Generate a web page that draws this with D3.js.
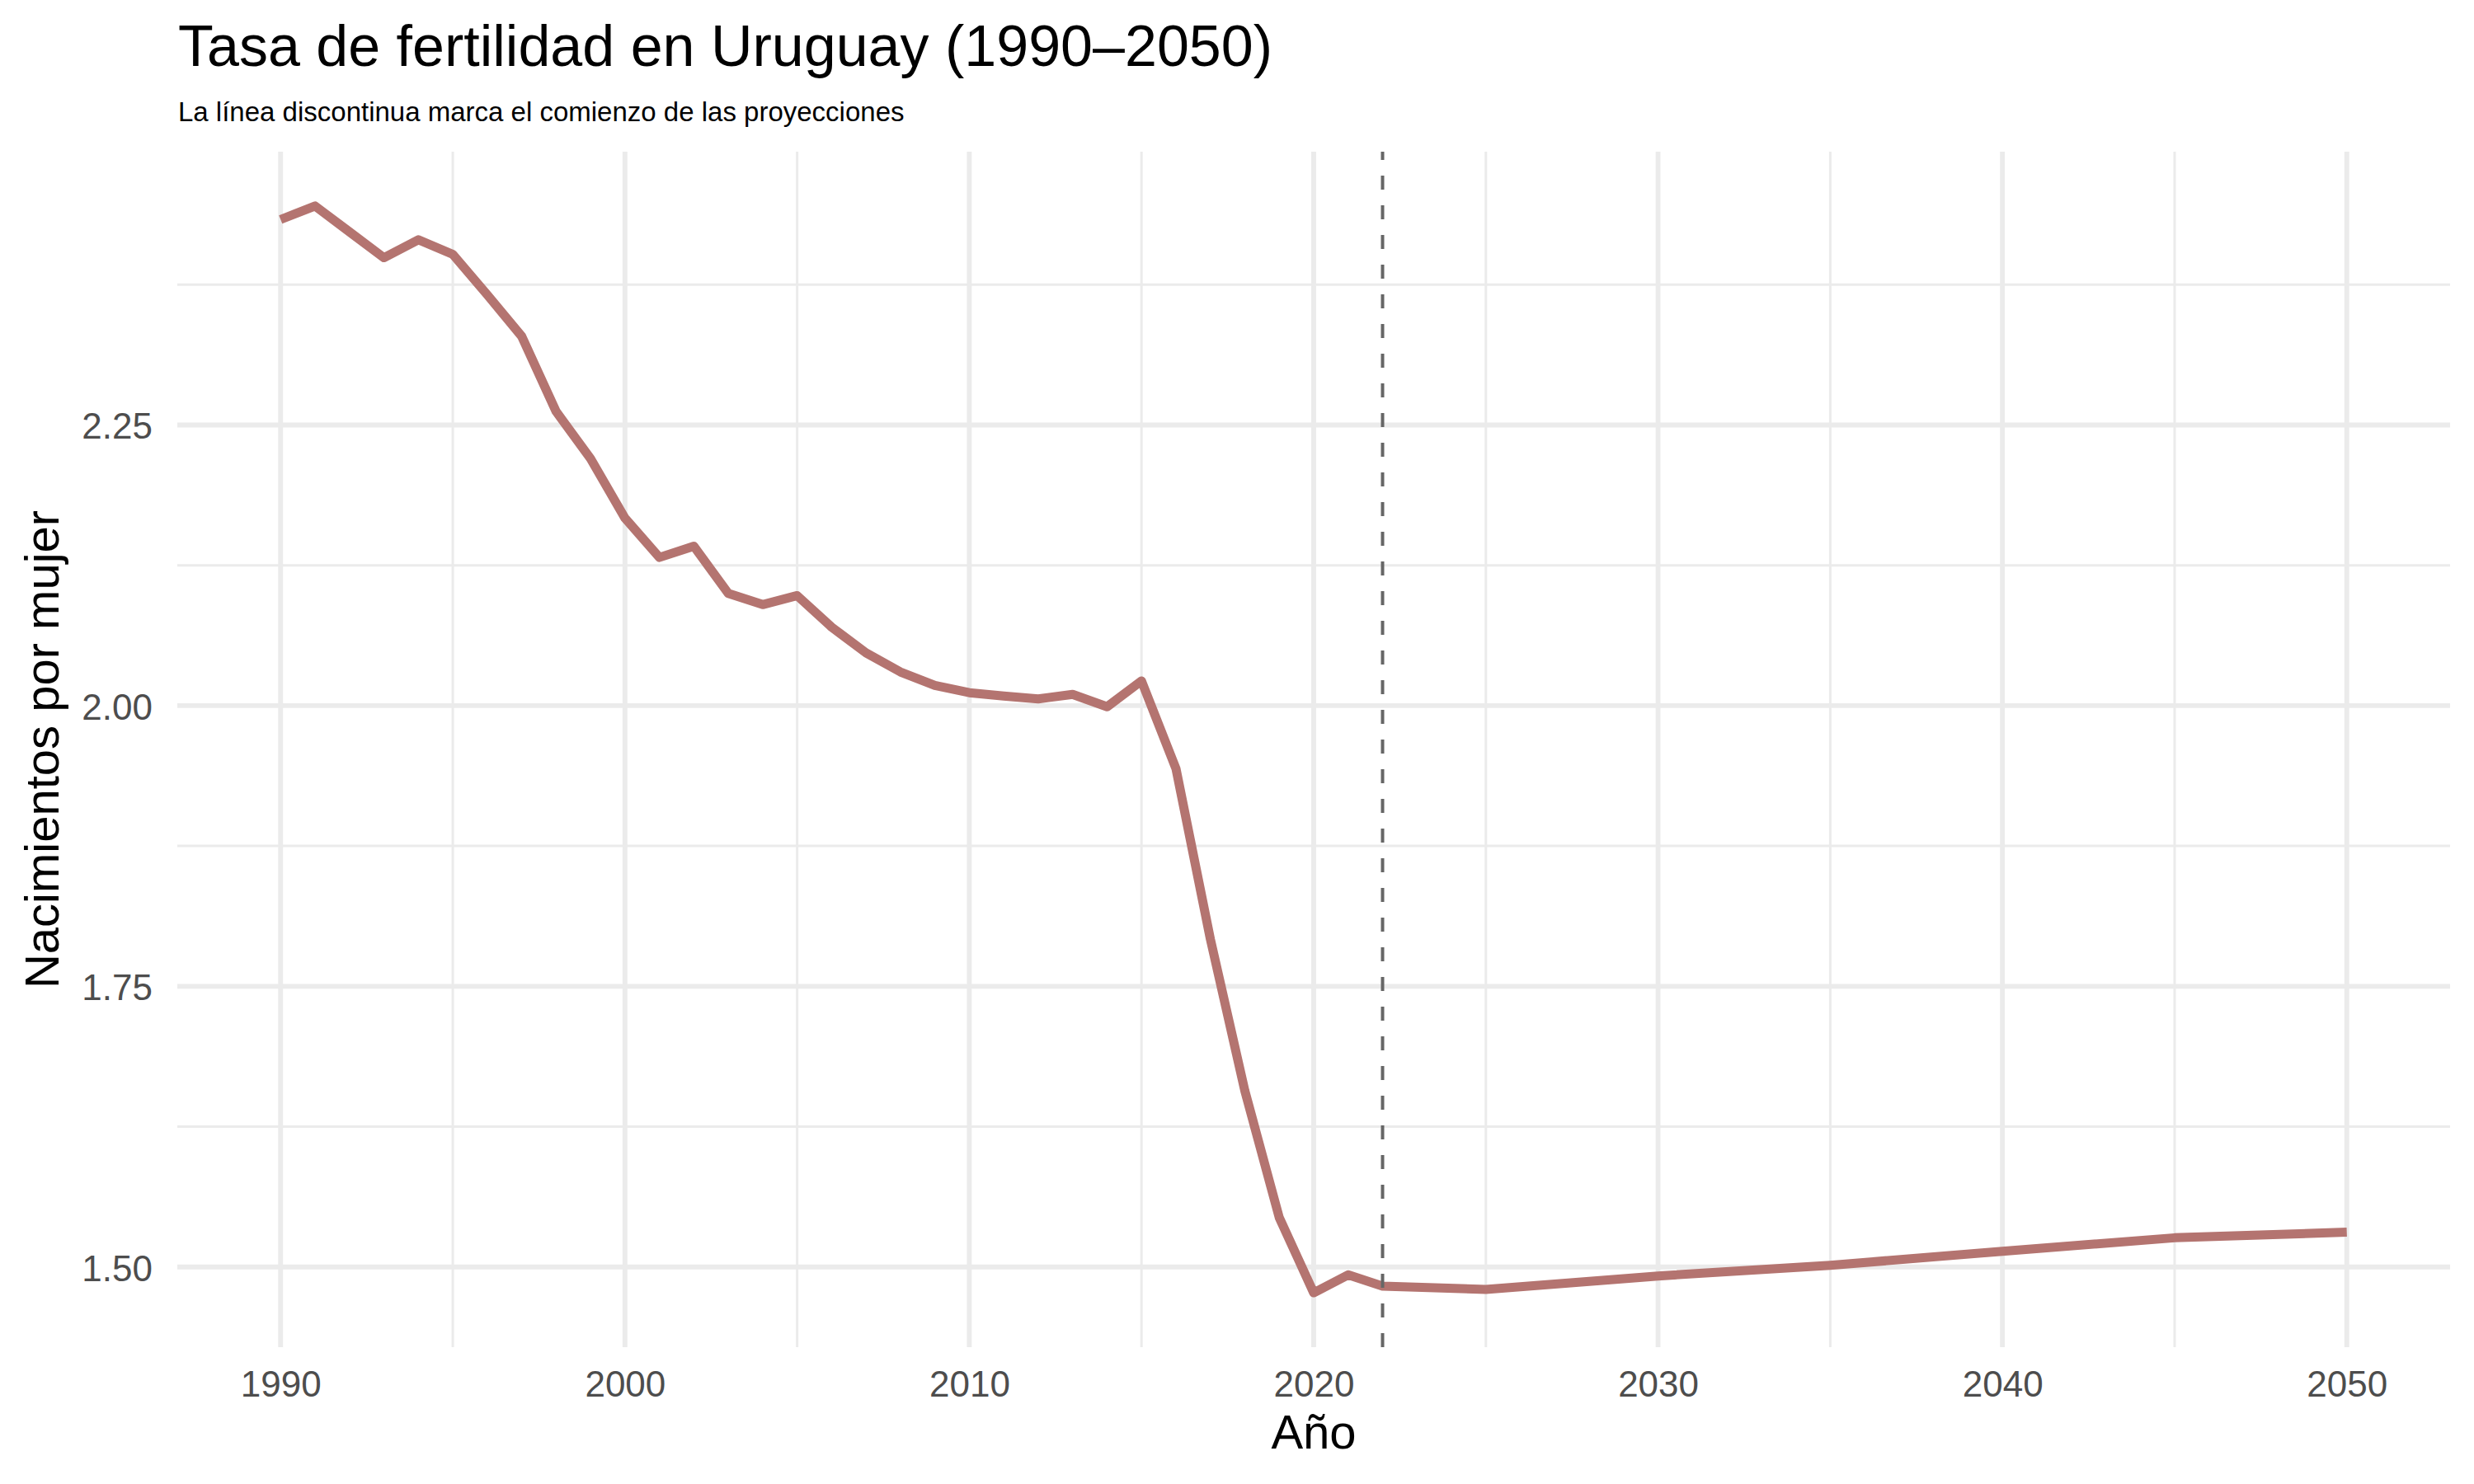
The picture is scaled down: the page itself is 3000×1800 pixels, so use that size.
<!DOCTYPE html>
<html>
<head>
<meta charset="utf-8">
<script src="https://cdn.jsdelivr.net/npm/d3@7"></script>
<style>
  body { margin: 0; background: #fff; }
  text { font-family: "Liberation Sans", Arial, sans-serif; }
</style>
</head>
<body>
<script>
var years  = [1990,1991,1992,1993,1994,1995,1996,1997,1998,1999,
              2000,2001,2002,2003,2004,2005,2006,2007,2008,2009,
              2010,2011,2012,2013,2014,2015,2016,2017,2018,2019,
              2020,2021,2022,2025,2030,2035,2040,2045,2050];
var fertility = [2.433,2.445,2.422,2.399,2.415,2.402,2.366,2.329,2.262,2.220,
                 2.167,2.132,2.142,2.100,2.090,2.098,2.070,2.047,2.030,2.018,
                 2.0115,2.0085,2.006,2.010,1.999,2.022,1.944,1.792,1.657,1.544,
                 1.477,1.493,1.483,1.480,1.492,1.5015,1.514,1.526,1.531];
var projectionStart = 2022;

var xBreaks = [1990,2000,2010,2020,2030,2040,2050];
var xMinor  = [1995,2005,2015,2025,2035,2045];
var yBreaks = [1.50,1.75,2.00,2.25];
var yMinor  = [1.625,1.875,2.125,2.375];

var width = 3000, height = 1800;
var panelLeft = 215, panelRight = 2971, panelTop = 184, panelBottom = 1634;

var data = years.map(function(y,i){ return {year:y, value:fertility[i]}; });

// ggplot style 5% expansion
var xr = d3.extent(years), yr = d3.extent(fertility);
var xpad = (xr[1]-xr[0])*0.05, ypad = (yr[1]-yr[0])*0.05;

var x = d3.scaleLinear().domain([xr[0]-xpad, xr[1]+xpad]).range([panelLeft, panelRight]);
var y = d3.scaleLinear().domain([yr[0]-ypad, yr[1]+ypad]).range([panelBottom, panelTop]);

var svg = d3.select("body").append("svg").attr("width",width).attr("height",height);

var grid = svg.append("g");
grid.selectAll(".vminor").data(xMinor).enter().append("line")
    .attr("x1",x).attr("x2",x).attr("y1",panelTop).attr("y2",panelBottom)
    .attr("stroke","#ebebeb").attr("stroke-width",3);
grid.selectAll(".hminor").data(yMinor).enter().append("line")
    .attr("x1",panelLeft).attr("x2",panelRight).attr("y1",y).attr("y2",y)
    .attr("stroke","#ebebeb").attr("stroke-width",3);
grid.selectAll(".vmajor").data(xBreaks).enter().append("line")
    .attr("x1",x).attr("x2",x).attr("y1",panelTop).attr("y2",panelBottom)
    .attr("stroke","#ebebeb").attr("stroke-width",5.9);
grid.selectAll(".hmajor").data(yBreaks).enter().append("line")
    .attr("x1",panelLeft).attr("x2",panelRight).attr("y1",y).attr("y2",y)
    .attr("stroke","#ebebeb").attr("stroke-width",5.9);

var line = d3.line()
    .x(function(d){ return x(d.year); })
    .y(function(d){ return y(d.value); });

svg.append("path")
    .attr("d",line(data))
    .attr("fill","none")
    .attr("stroke","#b47470")
    .attr("stroke-width",11)
    .attr("stroke-linejoin","round")
    .attr("stroke-linecap","butt");

// start of projections
svg.append("line")
    .attr("x1",x(projectionStart)).attr("x2",x(projectionStart))
    .attr("y1",panelBottom).attr("y2",panelTop)
    .attr("stroke","#666666").attr("stroke-width",4)
    .attr("stroke-dasharray","17,19");

var xAxis = svg.append("g").attr("transform","translate(0,"+panelBottom+")")
    .call(d3.axisBottom(x).tickValues(xBreaks).tickFormat(d3.format("d")).tickSize(0).tickPadding(29));
var yAxis = svg.append("g").attr("transform","translate("+panelLeft+",0)")
    .call(d3.axisLeft(y).tickValues(yBreaks).tickFormat(d3.format(".2f")).tickSize(0).tickPadding(30));

[xAxis, yAxis].forEach(function(a){
  a.select(".domain").remove();
  a.selectAll("text").attr("fill","#4d4d4d").style("font-size","44px")
    .style("font-family","'Liberation Sans', Arial, sans-serif");
});
yAxis.selectAll("text").attr("dy","0.37em");

svg.append("text")
    .attr("x",216).attr("y",80)
    .style("font-size","70px").attr("fill","#000")
    .text("Tasa de fertilidad en Uruguay (1990–2050)");

svg.append("text")
    .attr("x",216).attr("y",147)
    .style("font-size","33px").attr("fill","#000")
    .text("La línea discontinua marca el comienzo de las proyecciones");

svg.append("text")
    .attr("x",(panelLeft+panelRight)/2).attr("y",1757)
    .attr("text-anchor","middle")
    .style("font-size","58px").attr("fill","#000")
    .text("Año");

svg.append("text")
    .attr("transform","translate(71,"+((panelTop+panelBottom)/2)+") rotate(-90)")
    .attr("text-anchor","middle")
    .style("font-size","58px").attr("fill","#000")
    .text("Nacimientos por mujer");
</script>
</body>
</html>
